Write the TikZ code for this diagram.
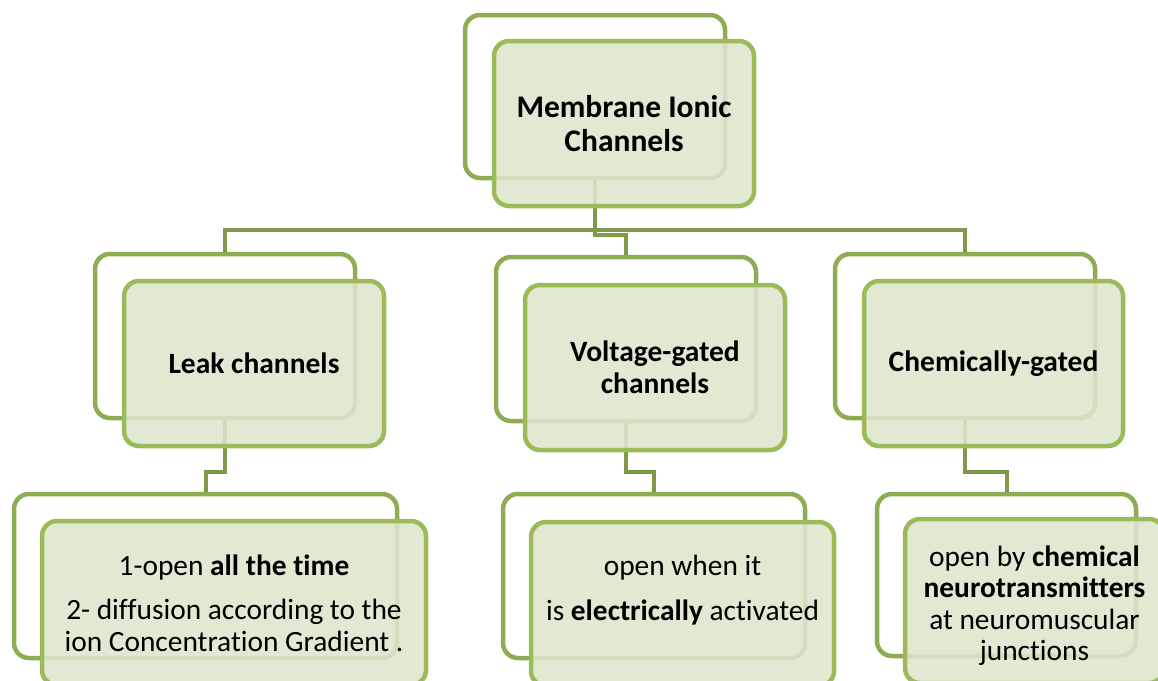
\documentclass[tikz,border=0pt]{standalone}
\usepackage{fontspec}
\setmainfont{Carlito}[Ligatures=NoCommon]
\definecolor{frontc}{HTML}{9BBB59}
\definecolor{backc}{HTML}{8EAC53}
\definecolor{connc}{HTML}{7F9A48}
\definecolor{fillc}{RGB}{221,230,205}
\begin{document}
\begin{tikzpicture}[x=1pt,y=-1pt,
  backbox/.style={rectangle, draw=backc, line width=4.5pt, rounded corners=15pt, inner sep=0pt},
  frontbox/.style={rectangle, draw=frontc, line width=4.5pt, rounded corners=15pt, fill=fillc,
     fill opacity=0.87, text opacity=1, text=black, align=center, inner sep=0pt},
  conn/.style={draw=connc, line width=4pt},
  titlefont/.style={font=\fontsize{31.5}{34}\selectfont\bfseries},
  midfont/.style={font=\fontsize{29.5}{32}\selectfont\bfseries},
  bodyfont/.style={font=\fontsize{29.4}{32}\selectfont},
]
\useasboundingbox (0,0) rectangle (1158,680);
\clip (0,0) rectangle (1158,680);

% back boxes
\node[backbox, minimum width=260pt, minimum height=163pt] (b0) at (595,96.5) {};
\node[backbox, minimum width=260pt, minimum height=164pt] (bL) at (225,336) {};
\node[backbox, minimum width=260pt, minimum height=164pt] (bV) at (626,339) {};
\node[backbox, minimum width=260pt, minimum height=164pt] (bC) at (965,336) {};
\node[backbox, minimum width=383pt, minimum height=164pt] (bL3) at (205.5,576) {};
\node[backbox, minimum width=302pt, minimum height=164pt] (bV3) at (654,576) {};
\node[backbox, minimum width=259pt, minimum height=162pt] (bC3) at (1006.5,575) {};

% connectors
\coordinate (hub) at (595,230);
\draw[conn] (b0.south) -- (hub);
\draw[conn] (bL.north) |- (hub) -| (bC.north);
\draw[conn] (hub) -- ++(0,5) -| (bV.north);
\draw[conn] (bL.south) -- ++(0,52) -| (bL3.north);
\draw[conn] (bV.south) -- ++(0,49) -| (bV3.north);
\draw[conn] (bC.south) -- ++(0,52) -| (bC3.north);

% front boxes
\node[frontbox, titlefont, minimum width=260pt, minimum height=165pt] (f0) at (624,123.5) {Membrane Ionic\\Channels};
\node[frontbox, midfont, minimum width=260pt, minimum height=165pt] (fL) at (254,363.5) {Leak channels};
\node[frontbox, midfont, minimum width=260pt, minimum height=165pt] (fV) at (655,367.5) {Voltage-gated\\channels};
\node[frontbox, midfont, minimum width=259pt, minimum height=165pt] (fC) at (993.5,363.5) {Chemically-gated};
\node[frontbox, bodyfont, minimum width=384pt, minimum height=164pt] (fL3) at (234,603)
  {1-open \textbf{all the time}\\[12pt]2- diffusion according to the\\ion Concentration Gradient .};
\node[frontbox, bodyfont, minimum width=303pt, minimum height=164pt] (fV3) at (682.5,604)
  {open when it\\[13pt]is \textbf{electrically} activated\\\mbox{}};
\node[frontbox, font=\fontsize{29.4}{31.3}\selectfont, minimum width=259pt, minimum height=164pt] (fC3) at (1034.5,601)
  {\rule{0pt}{30pt}open by \textbf{chemical}\\\textbf{neurotransmitters}\\at neuromuscular\\junctions};
\end{tikzpicture}
\end{document}
